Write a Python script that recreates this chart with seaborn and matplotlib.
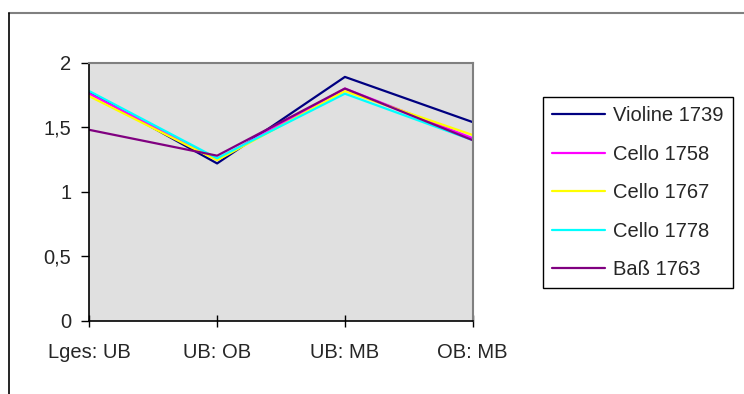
import matplotlib
matplotlib.use("Agg")
import matplotlib.pyplot as plt
from matplotlib.lines import Line2D
import seaborn as sns
import pandas as pd

# Ratios of body measurements for each instrument
categories = ["Lges: UB", "UB: OB", "UB: MB", "OB: MB"]
violine_1739 = [1.77, 1.22, 1.89, 1.54]
cello_1758 = [1.76, 1.25, 1.80, 1.415]
cello_1767 = [1.74, 1.245, 1.78, 1.44]
cello_1778 = [1.78, 1.26, 1.76, 1.40]
bass_1763 = [1.48, 1.28, 1.80, 1.40]

series_names = ["Violine 1739", "Cello 1758", "Cello 1767", "Cello 1778", "Baß 1763"]
series_values = [violine_1739, cello_1758, cello_1767, cello_1778, bass_1763]
colors = ["#000080", "#FF00FF", "#FFFF00", "#00FFFF", "#800080"]

y_ticks = [0, 0.5, 1, 1.5, 2]
y_tick_labels = ["0", "0,5", "1", "1,5", "2"]

rows = []
for name, vals in zip(series_names, series_values):
    for i, (cat, v) in enumerate(zip(categories, vals)):
        rows.append({"pos": i, "Kategorie": cat, "Wert": v, "Instrument": name})
df = pd.DataFrame(rows)

sns.set_style("white")
plt.rcParams["font.family"] = ["Liberation Sans", "DejaVu Sans"]
FS = 14.5

fig = plt.figure(figsize=(7.44, 3.94), dpi=100)
ax = fig.add_axes([89.3 / 744, 1 - 321 / 394, (472.7 - 89.3) / 744, (321 - 62.7) / 394])
ax.set_facecolor("#E0E0E0")

sns.lineplot(data=df, x="pos", y="Wert", hue="Instrument", hue_order=series_names,
             palette=dict(zip(series_names, colors)), linewidth=1.6, ax=ax,
             legend=False, estimator=None, sort=False)

ax.set_xlim(0, len(categories) - 1)
ax.set_ylim(0, 2)
ax.set_xticks(range(len(categories)))
ax.set_xticklabels(categories, fontsize=FS)
ax.set_yticks(y_ticks)
ax.set_yticklabels(y_tick_labels, fontsize=FS)
ax.set_xlabel("")
ax.set_ylabel("")
ax.tick_params(axis="y", direction="out", length=6, width=1, color="black", pad=7,
               left=True)
ax.tick_params(axis="x", direction="inout", length=9, width=1, color="black", pad=11,
               bottom=True)

for side in ["left", "bottom"]:
    ax.spines[side].set_color("black")
    ax.spines[side].set_linewidth(1.2)
for side in ["top", "right"]:
    ax.spines[side].set_visible(True)
    ax.spines[side].set_color("#808080")
    ax.spines[side].set_linewidth(1.5)

handles = [Line2D([0], [0], color=c, lw=1.6) for c in colors]
leg = fig.legend(handles, series_names, loc="upper left",
                 bbox_to_anchor=(543 / 744, 1 - 97 / 394), fontsize=FS,
                 frameon=True, fancybox=False, framealpha=1, edgecolor="black",
                 handlelength=2.65, handletextpad=0.4, labelspacing=0.97,
                 borderpad=0.45, borderaxespad=0)
leg.get_frame().set_linewidth(1.0)

# Outer chart frame
fig.add_artist(Line2D([9 / 744, 1], [1 - 13 / 394, 1 - 13 / 394],
                      transform=fig.transFigure, color="#808080", lw=1.5))
fig.add_artist(Line2D([9 / 744, 9 / 744], [0, 1 - 13 / 394],
                      transform=fig.transFigure, color="black", lw=1.2))

fig.savefig("out.png", dpi=100)
